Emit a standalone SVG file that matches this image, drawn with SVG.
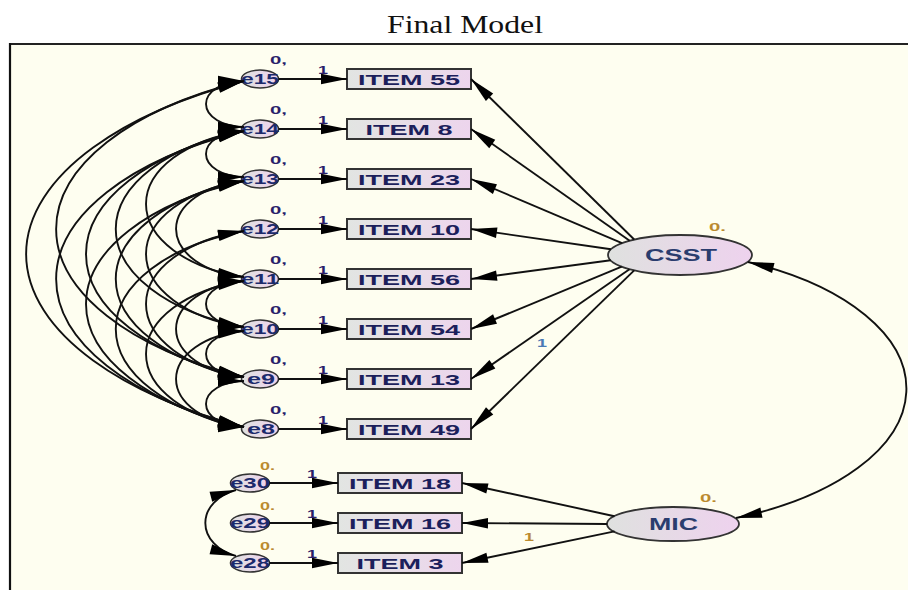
<svg xmlns="http://www.w3.org/2000/svg" width="908" height="590" viewBox="0 0 908 590">
  <style>
    .title { font-family: "Liberation Serif", "DejaVu Serif", serif; font-size: 26px; fill: #111; }
    .box { fill: url(#boxFill); stroke: #333; stroke-width: 2; }
    .err { fill: url(#ellFill); stroke: #333; stroke-width: 1.6; }
    .lat { fill: url(#ellFill); stroke: #333; stroke-width: 1.8; }
    .item { font-family: "Liberation Sans", Arial, sans-serif; font-size: 15px; font-weight: bold; fill: #1c1f5c; text-anchor: middle; }
    .elab { font-family: "Liberation Sans", Arial, sans-serif; font-size: 14px; font-weight: bold; fill: #1c2a6c; text-anchor: middle; }
    .latlab { font-family: "Liberation Sans", Arial, sans-serif; font-size: 16px; font-weight: bold; fill: #2a3d6e; text-anchor: middle; }
    .sm { font-family: "Liberation Sans", Arial, sans-serif; font-size: 11px; font-weight: bold; }
    .navy { fill: #2a1f6a; }
    .ochre { fill: #bb8a2e; }
    .blue { fill: #4a7ab5; }
    .path { fill: none; stroke: #111; stroke-width: 1.9; marker-end: url(#ah); }
    .cov { fill: none; stroke: #111; stroke-width: 1.9; marker-start: url(#ah); marker-end: url(#ah); }
  </style>
  <defs>
    <linearGradient id="boxFill" x1="0" y1="0" x2="1" y2="0">
      <stop offset="0" stop-color="#e2e5e2"/>
      <stop offset="1" stop-color="#edd5ed"/>
    </linearGradient>
    <linearGradient id="ellFill" x1="0" y1="0" x2="1" y2="0">
      <stop offset="0" stop-color="#dfe1df"/>
      <stop offset="1" stop-color="#eed2ee"/>
    </linearGradient>
    <marker id="ah" viewBox="-26 -6 26 12" refX="0" refY="0" markerWidth="26" markerHeight="12" markerUnits="userSpaceOnUse" orient="auto-start-reverse" overflow="visible">
      <path d="M0,0 L-26,-5.2 L-26,5.2 Z" fill="#000"/>
    </marker>
  </defs>

  <!-- page and frame -->
  <rect x="0" y="0" width="908" height="590" fill="#ffffff"/>
  <rect x="10" y="44" width="898" height="546" fill="#fefef0"/>
  <line x1="10" y1="44" x2="908" y2="44" stroke="#222" stroke-width="2.2"/>
  <line x1="10" y1="43" x2="10" y2="590" stroke="#111" stroke-width="2.2"/>

  <text class="title" x="465" y="33" text-anchor="middle" textLength="156" lengthAdjust="spacingAndGlyphs">Final Model</text>

  <!-- observed items, CSST block -->
  <g id="item55"><rect class="box" x="347" y="69" width="124" height="20"/><text class="item" x="409" y="85" textLength="102" lengthAdjust="spacingAndGlyphs">ITEM 55</text></g>
  <g id="item8"><rect class="box" x="347" y="119" width="124" height="20"/><text class="item" x="409" y="135" textLength="87" lengthAdjust="spacingAndGlyphs">ITEM 8</text></g>
  <g id="item23"><rect class="box" x="347" y="169" width="124" height="20"/><text class="item" x="409" y="185" textLength="102" lengthAdjust="spacingAndGlyphs">ITEM 23</text></g>
  <g id="item10"><rect class="box" x="347" y="219" width="124" height="20"/><text class="item" x="409" y="235" textLength="102" lengthAdjust="spacingAndGlyphs">ITEM 10</text></g>
  <g id="item56"><rect class="box" x="347" y="269" width="124" height="20"/><text class="item" x="409" y="285" textLength="102" lengthAdjust="spacingAndGlyphs">ITEM 56</text></g>
  <g id="item54"><rect class="box" x="347" y="319" width="124" height="20"/><text class="item" x="409" y="335" textLength="102" lengthAdjust="spacingAndGlyphs">ITEM 54</text></g>
  <g id="item13"><rect class="box" x="347" y="369" width="124" height="20"/><text class="item" x="409" y="385" textLength="102" lengthAdjust="spacingAndGlyphs">ITEM 13</text></g>
  <g id="item49"><rect class="box" x="347" y="419" width="124" height="20"/><text class="item" x="409" y="435" textLength="102" lengthAdjust="spacingAndGlyphs">ITEM 49</text></g>

  <!-- observed items, MIC block -->
  <g id="item18"><rect class="box" x="338" y="473" width="124" height="20"/><text class="item" x="400" y="489" textLength="102" lengthAdjust="spacingAndGlyphs">ITEM 18</text></g>
  <g id="item16"><rect class="box" x="338" y="513" width="124" height="20"/><text class="item" x="400" y="529" textLength="102" lengthAdjust="spacingAndGlyphs">ITEM 16</text></g>
  <g id="item3"><rect class="box" x="338" y="553" width="124" height="20"/><text class="item" x="400" y="569" textLength="87" lengthAdjust="spacingAndGlyphs">ITEM 3</text></g>

  <!-- error terms -->
  <g id="e15"><ellipse class="err" cx="260" cy="79" rx="18.5" ry="9"/><text class="elab" x="260" y="84" textLength="38" lengthAdjust="spacingAndGlyphs">e15</text><text class="sm navy" x="270" y="64" textLength="17" lengthAdjust="spacingAndGlyphs">0,</text></g>
  <g id="e14"><ellipse class="err" cx="260" cy="129" rx="18.5" ry="9"/><text class="elab" x="260" y="134" textLength="38" lengthAdjust="spacingAndGlyphs">e14</text><text class="sm navy" x="270" y="114" textLength="17" lengthAdjust="spacingAndGlyphs">0,</text></g>
  <g id="e13"><ellipse class="err" cx="260" cy="179" rx="18.5" ry="9"/><text class="elab" x="260" y="184" textLength="38" lengthAdjust="spacingAndGlyphs">e13</text><text class="sm navy" x="270" y="164" textLength="17" lengthAdjust="spacingAndGlyphs">0,</text></g>
  <g id="e12"><ellipse class="err" cx="260" cy="229" rx="18.5" ry="9"/><text class="elab" x="260" y="234" textLength="38" lengthAdjust="spacingAndGlyphs">e12</text><text class="sm navy" x="270" y="214" textLength="17" lengthAdjust="spacingAndGlyphs">0,</text></g>
  <g id="e11"><ellipse class="err" cx="260" cy="279" rx="18.5" ry="9"/><text class="elab" x="260" y="284" textLength="38" lengthAdjust="spacingAndGlyphs">e11</text><text class="sm navy" x="270" y="264" textLength="17" lengthAdjust="spacingAndGlyphs">0,</text></g>
  <g id="e10"><ellipse class="err" cx="260" cy="329" rx="18.5" ry="9"/><text class="elab" x="260" y="334" textLength="38" lengthAdjust="spacingAndGlyphs">e10</text><text class="sm navy" x="270" y="314" textLength="17" lengthAdjust="spacingAndGlyphs">0,</text></g>
  <g id="e9"><ellipse class="err" cx="260" cy="379" rx="18.5" ry="9"/><text class="elab" x="261" y="384" textLength="28" lengthAdjust="spacingAndGlyphs">e9</text><text class="sm navy" x="270" y="364" textLength="17" lengthAdjust="spacingAndGlyphs">0,</text></g>
  <g id="e8"><ellipse class="err" cx="260" cy="429" rx="18.5" ry="9"/><text class="elab" x="261" y="434" textLength="28" lengthAdjust="spacingAndGlyphs">e8</text><text class="sm navy" x="270" y="414" textLength="17" lengthAdjust="spacingAndGlyphs">0,</text></g>
  <g id="e30"><ellipse class="err" cx="250" cy="483" rx="19.5" ry="9"/><text class="elab" x="250" y="488" textLength="40" lengthAdjust="spacingAndGlyphs">e30</text><text class="sm ochre" x="260" y="470" textLength="15" lengthAdjust="spacingAndGlyphs">0.</text></g>
  <g id="e29"><ellipse class="err" cx="250" cy="523" rx="19.5" ry="9"/><text class="elab" x="250" y="528" textLength="40" lengthAdjust="spacingAndGlyphs">e29</text><text class="sm ochre" x="260" y="510" textLength="15" lengthAdjust="spacingAndGlyphs">0.</text></g>
  <g id="e28"><ellipse class="err" cx="250" cy="563" rx="19.5" ry="9"/><text class="elab" x="250" y="568" textLength="40" lengthAdjust="spacingAndGlyphs">e28</text><text class="sm ochre" x="260" y="550" textLength="15" lengthAdjust="spacingAndGlyphs">0.</text></g>

  <!-- latent factors -->
  <g id="CSST"><ellipse class="lat" cx="680" cy="255" rx="72" ry="20"/><text class="latlab" x="681" y="261" textLength="72" lengthAdjust="spacingAndGlyphs">CSST</text><text class="sm ochre" x="709" y="231" textLength="17" lengthAdjust="spacingAndGlyphs">0.</text></g>
  <g id="MIC"><ellipse class="lat" cx="673" cy="524" rx="66" ry="17"/><text class="latlab" x="673.5" y="530" font-size="15" textLength="49" lengthAdjust="spacingAndGlyphs">MIC</text><text class="sm ochre" x="700" y="502" textLength="17" lengthAdjust="spacingAndGlyphs">0.</text></g>

  <!-- connectors -->
  <g id="connectors">
    <!-- error -> item -->
    <path class="path" d="M278.5,79 H347"/>
    <path class="path" d="M278.5,129 H347"/>
    <path class="path" d="M278.5,179 H347"/>
    <path class="path" d="M278.5,229 H347"/>
    <path class="path" d="M278.5,279 H347"/>
    <path class="path" d="M278.5,329 H347"/>
    <path class="path" d="M278.5,379 H347"/>
    <path class="path" d="M278.5,429 H347"/>
    <path class="path" d="M269.5,483 H338"/>
    <path class="path" d="M269.5,523 H338"/>
    <path class="path" d="M269.5,563 H338"/>

    <!-- CSST loadings -->
    <path class="path" d="M634.2,239.5 L471,79"/>
    <path class="path" d="M629.7,240.7 L471,129"/>
    <path class="path" d="M622,243.1 L471,179"/>
    <path class="path" d="M610.9,249.3 L471,229"/>
    <path class="path" d="M610.7,260.3 L471,279"/>
    <path class="path" d="M621.7,266.7 L471,329"/>
    <path class="path" d="M629.5,269.2 L471,379"/>
    <path class="path" d="M634.2,270.4 L471,429"/>

    <!-- MIC loadings -->
    <path class="path" d="M614.5,516.2 L462,483"/>
    <path class="path" d="M607,524 L462,523"/>
    <path class="path" d="M614.5,531.4 L462,563"/>

    <!-- factor covariance -->
    <path class="cov" d="M748,262 A276 140 0 0 1 736,518"/>

    <!-- error covariances, CSST block -->
    <path class="cov" d="M244,81 A38 23 0 0 0 244,127"/>
    <path class="cov" d="M244,131 A38 23 0 0 0 244,177"/>
    <path class="cov" d="M244,281 A38 23 0 0 0 244,327"/>
    <path class="cov" d="M244,331 A38 23 0 0 0 244,377"/>
    <path class="cov" d="M244,381 A38 23 0 0 0 244,427"/>
    <path class="cov" d="M244,181 A79.3 48.5 0 0 0 244,277"/>
    <path class="cov" d="M244,281 A79.3 48.5 0 0 0 244,377"/>
    <path class="cov" d="M244,331 A79.3 48.5 0 0 0 244,427"/>
    <path class="cov" d="M244,131 A130.7 75.4 0 0 0 244,277"/>
    <path class="cov" d="M244,181 A130.7 75.4 0 0 0 244,327"/>
    <path class="cov" d="M244,231 A130.7 75.4 0 0 0 244,377"/>
    <path class="cov" d="M244,281 A130.7 75.4 0 0 0 244,427"/>
    <path class="cov" d="M244,131 A192 103.9 0 0 0 244,327"/>
    <path class="cov" d="M244,181 A192 103.9 0 0 0 244,377"/>
    <path class="cov" d="M244,231 A192 103.9 0 0 0 244,427"/>
    <path class="cov" d="M244,131 A263.3 134.2 0 0 0 244,377"/>
    <path class="cov" d="M244,181 A263.3 134.2 0 0 0 244,427"/>
    <path class="cov" d="M244,81 A344.7 166.2 0 0 0 244,377"/>
    <path class="cov" d="M244,131 A344.7 166.2 0 0 0 244,427"/>
    <path class="cov" d="M244,81 A436 199.8 0 0 0 244,427"/>

    <!-- error covariance, MIC block -->
    <path class="cov" d="M236,490 A46 35 0 0 0 236,556"/>
  </g>

  <!-- regression weights fixed to 1 -->
  <g id="weights">
    <text class="sm navy" x="318" y="74" textLength="10" lengthAdjust="spacingAndGlyphs">1</text>
    <text class="sm navy" x="318" y="124" textLength="10" lengthAdjust="spacingAndGlyphs">1</text>
    <text class="sm navy" x="318" y="174" textLength="10" lengthAdjust="spacingAndGlyphs">1</text>
    <text class="sm navy" x="318" y="224" textLength="10" lengthAdjust="spacingAndGlyphs">1</text>
    <text class="sm navy" x="318" y="274" textLength="10" lengthAdjust="spacingAndGlyphs">1</text>
    <text class="sm navy" x="318" y="324" textLength="10" lengthAdjust="spacingAndGlyphs">1</text>
    <text class="sm navy" x="318" y="374" textLength="10" lengthAdjust="spacingAndGlyphs">1</text>
    <text class="sm navy" x="318" y="424" textLength="10" lengthAdjust="spacingAndGlyphs">1</text>
    <text class="sm navy" x="307" y="478" textLength="10" lengthAdjust="spacingAndGlyphs">1</text>
    <text class="sm navy" x="307" y="518" textLength="10" lengthAdjust="spacingAndGlyphs">1</text>
    <text class="sm navy" x="307" y="558" textLength="10" lengthAdjust="spacingAndGlyphs">1</text>
    <text class="sm blue" x="537" y="347" textLength="10" lengthAdjust="spacingAndGlyphs">1</text>
    <text class="sm ochre" x="524" y="541" textLength="10" lengthAdjust="spacingAndGlyphs">1</text>
  </g>
</svg>
